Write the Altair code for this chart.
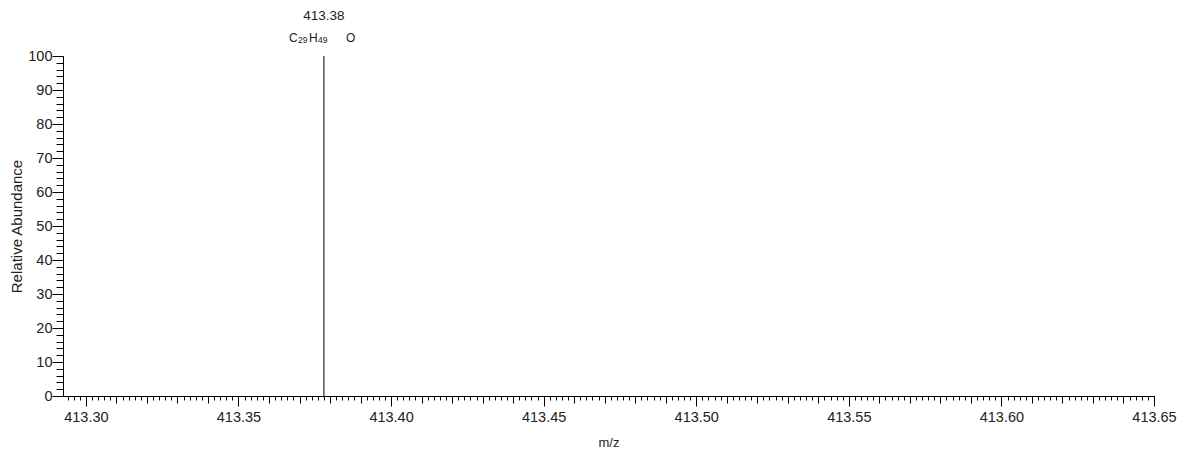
import altair as alt
import pandas as pd

# Data
peak_mz = [413.378]
peak_abundance = [100]
peak_mass_label = ["413.38"]
formula_parts = ["C", "29", "H", "49", "O"]
formula_is_sub = [False, True, False, True, False]

x_major = [413.30, 413.35, 413.40, 413.45, 413.50, 413.55, 413.60, 413.65]
x_medium = [round(413.30 + 0.01 * i, 3) for i in range(36)]
x_minor = [round(413.294 + 0.002 * i, 3) for i in range(179)]
y_major = [0, 10, 20, 30, 40, 50, 60, 70, 80, 90, 100]
y_minor = list(range(0, 101, 2))

df = pd.DataFrame({"mz": peak_mz, "ab": peak_abundance, "mass": peak_mass_label})

FONT = "Liberation Sans"
TXT = "#222"
xscale = alt.Scale(domain=[413.2925, 413.65], nice=False, zero=False)
yscale = alt.Scale(domain=[0, 100], nice=False)


def xaxis(values, size, labels=False, title=None, domain=False):
    kw = dict(values=values, tickSize=size, labels=labels, domain=domain, grid=False,
              orient="bottom", tickColor="#000", domainColor="#000", tickWidth=1)
    if labels:
        kw.update(format=".2f", labelFont=FONT, labelFontSize=14.5, labelColor=TXT,
                  labelPadding=4, labelFlush=False)
    if title:
        kw.update(title=title, titleFont=FONT, titleFontSize=13, titleColor=TXT,
                  titleFontWeight="normal", titlePadding=13)
    else:
        kw.update(title=None)
    return alt.Axis(**kw)


def yaxis(values, size, labels=False, title=None, domain=False):
    kw = dict(values=values, tickSize=size, labels=labels, domain=domain, grid=False,
              orient="left", tickColor="#000", domainColor="#000", tickWidth=1)
    if labels:
        kw.update(format="d", labelFont=FONT, labelFontSize=14.5, labelColor=TXT,
                  labelPadding=0, labelFlush=False)
    if title:
        kw.update(title=title, titleFont=FONT, titleFontSize=15, titleColor=TXT,
                  titleFontWeight="normal", titlePadding=3)
    else:
        kw.update(title=None)
    return alt.Axis(**kw)


base = alt.Chart(df)

peak = base.mark_rule(color="#000", strokeWidth=1).encode(
    x=alt.X("mz:Q", scale=xscale, axis=xaxis(x_major, 10, labels=True, title="m/z", domain=True)),
    y=alt.Y("ab:Q", scale=yscale, axis=yaxis(y_major, 11, labels=True, title="Relative Abundance", domain=True)),
    y2=alt.datum(0),
)

medium = base.mark_point(opacity=0).encode(
    x=alt.X("mz:Q", scale=xscale, axis=xaxis(x_medium, 7)),
    y=alt.Y("ab:Q", scale=yscale, axis=yaxis(y_minor, 7)),
)

minor = base.mark_point(opacity=0).encode(
    x=alt.X("mz:Q", scale=xscale, axis=xaxis(x_minor, 4)),
    y=alt.Y("ab:Q", scale=yscale, axis=None),
)

mass_text = base.mark_text(font=FONT, fontSize=13.5, color=TXT, dy=-36, baseline="alphabetic").encode(
    x=alt.X("mz:Q", scale=xscale, axis=None),
    y=alt.Y("ab:Q", scale=yscale, axis=None),
    text="mass:N")

# formula pieces (subscripts smaller and lower)
part_dx = [-35, -26, -15, -6, 22]
formula_layers = []
for part, sub, dx in zip(formula_parts, formula_is_sub, part_dx):
    formula_layers.append(
        base.mark_text(font=FONT, fontSize=8.5 if sub else 12, color=TXT, align="left",
                       baseline="alphabetic", dx=dx, dy=-13 if sub else -14).encode(
            x=alt.X("mz:Q", scale=xscale, axis=None),
            y=alt.Y("ab:Q", scale=yscale, axis=None),
            text=alt.value(part))
    )

chart = alt.layer(peak, medium, minor, mass_text, *formula_layers).resolve_scale(
    x="shared", y="shared"
).resolve_axis(x="independent", y="independent").properties(
    width=1091, height=340,
    autosize=alt.AutoSizeParams(type="none"),
    padding={"left": 55, "top": 48, "right": 24, "bottom": 53},
).configure(background="white").configure_view(stroke=None)

chart.save("out.html", embed_options={"renderer": "svg", "actions": False})
